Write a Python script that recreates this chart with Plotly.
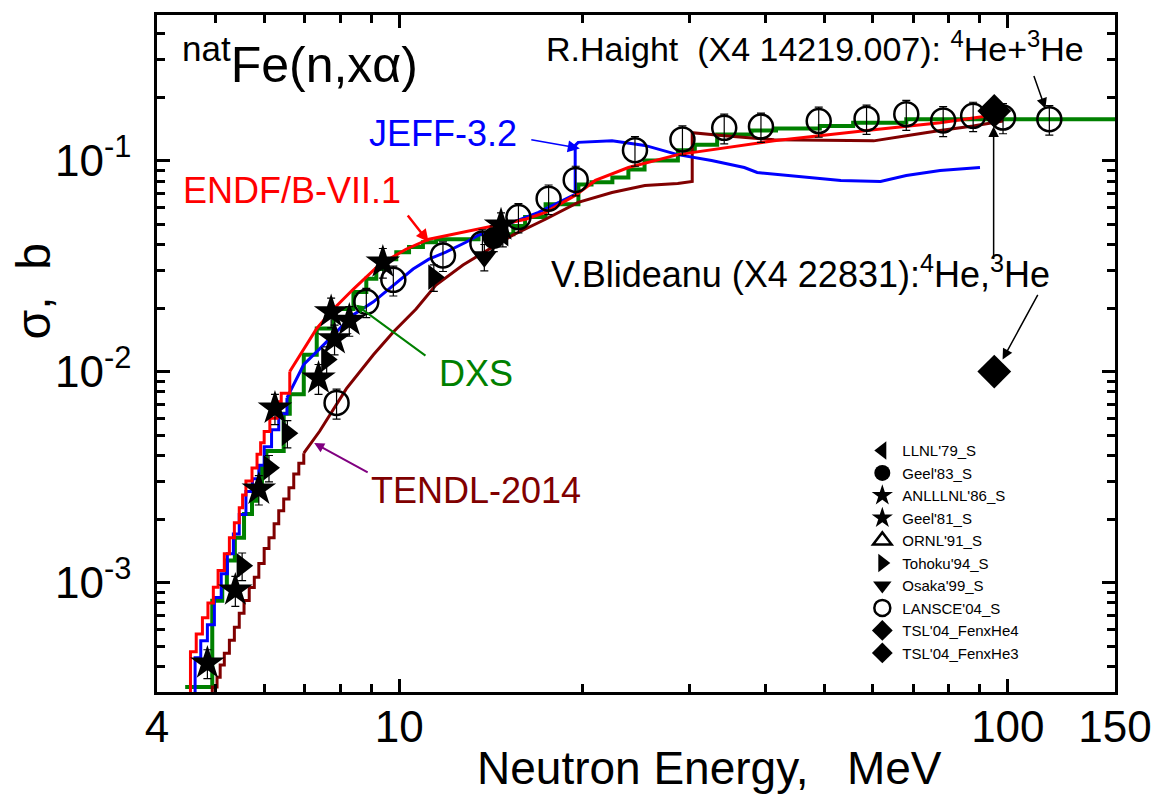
import plotly.graph_objects as go

# ---------------- data ----------------
# ENDF/B-VII.1 (red): stepped low-energy part + smooth part
endf_lo_e = [4.42, 4.54, 4.64, 4.75, 4.85, 4.95, 5.04, 5.16, 5.26, 5.36, 5.46, 5.53,
             5.60, 5.73, 5.84, 5.92, 6.00, 6.13, 6.30, 6.40, 6.61]
endf_lo_s = [2.9e-4, 4.7e-4, 5.7e-4, 6.8e-4, 8.0e-4, 9.5e-4, 1.14e-3, 1.37e-3, 1.63e-3,
             1.92e-3, 2.26e-3, 2.6e-3, 3.03e-3, 3.49e-3, 4.06e-3, 4.6e-3, 5.2e-3, 6.0e-3,
             7.2e-3, 7.9e-3, 1.0e-2]
endf_hi_e = [6.61, 6.97, 7.32, 7.80, 8.41, 9.27, 10.26, 11.19, 12.73, 14.4, 16.13, 17.39,
             19.46, 21.0, 23.8, 28.7, 36.9, 41.3, 60.2, 77.4, 95.6]
endf_hi_s = [1.0e-2, 1.28e-2, 1.6e-2, 1.98e-2, 2.46e-2, 3.2e-2, 3.8e-2, 4.24e-2, 4.57e-2,
             4.9e-2, 5.27e-2, 5.68e-2, 6.84e-2, 8.05e-2, 9.27e-2, 0.1067, 0.118, 0.124,
             0.140, 0.151, 0.165]

# JEFF-3.2 (blue)
jeff_lo_e = [4.54, 4.62, 4.72, 4.84, 4.97, 5.10, 5.22, 5.34, 5.46, 5.60, 5.74, 5.88,
             6.00, 6.17, 6.34, 6.54]
jeff_lo_s = [2.9e-4, 4.4e-4, 5.3e-4, 6.3e-4, 8.5e-4, 1.1e-3, 1.37e-3, 1.7e-3, 2.1e-3,
             2.7e-3, 3.1e-3, 3.6e-3, 4.4e-3, 5.3e-3, 6.3e-3, 7.5e-3]
jeff_hi_e = [6.54, 6.97, 7.40, 7.89, 8.41, 9.07, 9.78, 10.54, 11.19, 11.93, 12.87, 13.5,
             14.4, 15.36, 16.94, 18.26, 19.46, 19.46, 19.68, 22.37, 25.33, 28.68, 32.6,
             36.9, 38.74, 53.17, 61.78, 68.1, 77.4, 90.0]
jeff_hi_s = [7.5e-3, 1.08e-2, 1.28e-2, 1.54e-2, 1.86e-2, 2.14e-2, 2.57e-2, 3.06e-2,
             3.41e-2, 3.68e-2, 4.1e-2, 4.43e-2, 4.67e-2, 5.1e-2, 5.68e-2, 6.34e-2, 6.91e-2,
             0.118, 0.122, 0.124, 0.118, 0.1067, 0.100, 0.0927, 0.0878, 0.0805, 0.0796,
             0.0849, 0.0897, 0.0927]

# DXS (green histogram)
dxs_e = [4.45, 4.93, 5.12, 5.21, 5.37, 5.56, 5.73, 5.84, 5.95, 6.05, 6.46, 6.61, 6.97,
         7.32, 7.80, 8.41, 8.83, 9.17, 9.52, 9.89, 10.38, 10.94, 11.5, 13.5, 15.4, 16.1,
         17.4, 19.7, 20.7, 22.4, 23.8, 25.3, 28.7, 30.6, 33.3, 37.9, 41.6, 49.1, 55.7,
         68.1, 150]
dxs_s = [3.2e-4, 8.2e-4, 9.5e-4, 1.27e-3, 1.63e-3, 2.11e-3, 2.44e-3, 2.81e-3, 3.5e-3,
         4.2e-3, 6.3e-3, 7.8e-3, 1.2e-2, 1.6e-2, 1.98e-2, 2.38e-2, 2.75e-2, 3.06e-2,
         3.41e-2, 3.68e-2, 3.89e-2, 4.1e-2, 4.24e-2, 4.48e-2, 4.9e-2, 5.4e-2, 6.2e-2,
         7.7e-2, 7.9e-2, 8.31e-2, 9.07e-2, 0.100, 0.112, 0.119, 0.133, 0.139, 0.142,
         0.146, 0.151, 0.157, 0.157]

# TENDL-2014 (dark red)
tendl_lo_e = [4.88, 4.93, 5.02, 5.08, 5.16, 5.26, 5.36, 5.46, 5.56, 5.67, 5.78, 5.88,
              6.00, 6.11, 6.23, 6.34, 6.46, 6.59, 6.71, 6.84, 6.97]
tendl_lo_s = [2.9e-4, 3.2e-4, 3.56e-4, 4.06e-4, 4.62e-4, 5.33e-4, 6.13e-4, 7.14e-4,
              8.22e-4, 9.47e-4, 1.06e-3, 1.23e-3, 1.45e-3, 1.63e-3, 1.90e-3, 2.19e-3,
              2.49e-3, 2.81e-3, 3.27e-3, 3.68e-3, 4.10e-3]
tendl_hi_e = [6.97, 7.40, 8.19, 9.07, 9.78, 10.66, 11.49, 12.73, 14.4, 15.36, 17.39,
              19.68, 22.37, 25.33, 28.68, 30.3, 30.3, 34.2, 41.3, 53.2, 60.2, 68.1,
              77.4, 87.7, 98.2]
tendl_hi_s = [4.10e-3, 5.21e-3, 8.3e-3, 1.2e-2, 1.54e-2, 1.98e-2, 2.57e-2, 3.2e-2,
              3.97e-2, 4.43e-2, 5.27e-2, 6.34e-2, 7.06e-2, 7.62e-2, 7.79e-2, 7.96e-2,
              0.1355, 0.131, 0.1256, 0.124, 0.124, 0.131, 0.139, 0.146, 0.154]

# Experimental data (energy MeV, cross section b, error b)
llnl79_e, llnl79_s, llnl79_d = [14.8], [4.5e-2], [6e-3]
geel83_e, geel83_s, geel83_d = [14.3], [4.3e-2], [6e-3]
anl86_e = [4.84, 5.38, 5.88, 6.25, 7.37, 7.73, 7.83, 8.28, 9.4]
anl86_s = [4.15e-4, 9.2e-4, 2.77e-3, 6.7e-3, 9.3e-3, 1.92e-2, 1.43e-2, 1.75e-2, 3.3e-2]
anl86_d = [6.5e-5, 1.5e-4, 4.4e-4, 1.1e-3, 1.5e-3, 3.1e-3, 2.3e-3, 2.8e-3, 5.3e-3]
geel81_e, geel81_s, geel81_d = [14.7], [4.95e-2], [7e-3]
ornl91_e, ornl91_s = [None], [None]
tohoku_e = [5.52, 6.11, 6.55, 7.60, 11.4]
tohoku_s = [1.2e-3, 3.5e-3, 5.1e-3, 1.14e-2, 2.8e-2]
tohoku_d = [1.8e-4, 5e-4, 7.5e-4, 1.7e-3, 4e-3]
osaka_e, osaka_s, osaka_d = [13.8], [3.5e-2], [5e-3]
lansce_e = [7.89, 8.83, 9.78, 11.8, 13.7, 15.7, 17.6, 19.5, 24.4, 29.2, 34.2, 39.3,
            48.9, 58.6, 68.1, 78.3, 87.7, 98.2, 117]
lansce_s = [7.1e-3, 2.14e-2, 2.72e-2, 3.55e-2, 4.05e-2, 5.4e-2, 6.6e-2, 8.1e-2, 0.112,
            0.126, 0.143, 0.145, 0.154, 0.158, 0.166, 0.155, 0.163, 0.160, 0.157]
lansce_d = [1.15e-3, 3.4e-3, 4.4e-3, 5.7e-3, 6.5e-3, 8.6e-3, 0.0106, 0.013, 0.018,
            0.020, 0.023, 0.023, 0.025, 0.025, 0.027, 0.025, 0.026, 0.026, 0.025]
tsl4_e, tsl4_s = [95], [0.172]
tsl3_e, tsl3_s = [95], [0.0100]

x_tickvals = [4, 10, 100, 150]
x_ticktext = ["4", "10", "100", "150"]
x_minor = [5, 6, 7, 8, 9, 20, 30, 40, 50, 60, 70, 80, 90]
y_tickvals = [1e-3, 1e-2, 1e-1]
y_ticktext = ["10<sup>-3</sup>", "10<sup>-2</sup>", "10<sup>-1</sup>"]
y_minor = [4e-4, 5e-4, 6e-4, 7e-4, 8e-4, 9e-4, 2e-3, 3e-3, 4e-3, 5e-3, 6e-3, 7e-3, 8e-3,
           9e-3, 2e-2, 3e-2, 4e-2, 5e-2, 6e-2, 7e-2, 8e-2, 9e-2, 2e-1, 3e-1, 4e-1]

# ---------------- styling ----------------
FONT = "Arial, Liberation Sans, sans-serif"
RED, BLUE, GREEN, BROWN, PURPLE = "#ff0000", "#0000ff", "#008000", "#800000", "#800080"
W, H = 1164, 796
L, R, T, B = 157, 1120, 12, 692


def px(x):
    return (x - L) / (R - L)


def py(y):
    return (B - y) / (B - T)


fig = go.Figure()


def curve(xs, ys, color, width, shape):
    fig.add_trace(go.Scatter(x=xs, y=ys, mode="lines", showlegend=False,
                             hoverinfo="skip",
                             line=dict(color=color, width=width, shape=shape)))


curve(dxs_e, dxs_s, GREEN, 4, "hv")
curve(tendl_lo_e, tendl_lo_s, BROWN, 3, "hv")
curve(tendl_hi_e, tendl_hi_s, BROWN, 3, "linear")
curve(jeff_lo_e, jeff_lo_s, BLUE, 3, "hv")
curve(jeff_hi_e, jeff_hi_s, BLUE, 3, "linear")
curve(endf_lo_e, endf_lo_s, RED, 3, "hv")
curve(endf_hi_e, endf_hi_s, RED, 3, "linear")


def pts(name, xs, ys, symbol, size, rank, err=None, lw=0):
    kw = {}
    if err is not None:
        kw["error_y"] = dict(type="data", array=err, color="black", thickness=1.2, width=4)
    fig.add_trace(go.Scatter(x=xs, y=ys, mode="markers", name=name, legendrank=rank,
                             marker=dict(symbol=symbol, size=size, color="black",
                                         line=dict(color="black", width=lw)),
                             **kw))


pts("LLNL'79_S", llnl79_e, llnl79_s, "triangle-left", 22, 1, llnl79_d)
pts("Geel'83_S", geel83_e, geel83_s, "circle", 22, 2, geel83_d)
pts("ANLLLNL'86_S", anl86_e, anl86_s, "star", 26, 3, anl86_d)
pts("Geel'81_S", geel81_e, geel81_s, "star", 26, 4, geel81_d)
pts("ORNL'91_S", ornl91_e, ornl91_s, "triangle-up-open", 22, 5, None, 2.5)
pts("Tohoku'94_S", tohoku_e, tohoku_s, "triangle-right", 22, 6, tohoku_d)
pts("Osaka'99_S", osaka_e, osaka_s, "triangle-down", 22, 7, osaka_d)
pts("LANSCE'04_S", lansce_e, lansce_s, "circle-open", 24, 8, lansce_d, 2.5)
pts("TSL'04_FenxHe4", tsl4_e, tsl4_s, "diamond", 26, 9)
pts("TSL'04_FenxHe3", tsl3_e, tsl3_s, "diamond", 26, 10)

axis_common = dict(type="log", showgrid=False, zeroline=False, showline=True,
                   linecolor="black", linewidth=2.5, mirror="allticks",
                   ticks="inside", ticklen=13, tickwidth=2.5, tickcolor="black",
                   tickmode="array")

fig.update_xaxes(**axis_common, range=[0.60206, 2.17609],
                 tickvals=x_tickvals, ticktext=x_ticktext,
                 tickfont=dict(family=FONT, size=44, color="black"),
                 ticklabelstandoff=-6,
                 minor=dict(tickmode="array", tickvals=x_minor, ticks="inside",
                            ticklen=8, tickwidth=2.5, tickcolor="black"))
fig.update_yaxes(**axis_common, range=[-3.519, -0.31],
                 tickvals=y_tickvals, ticktext=y_ticktext,
                 tickfont=dict(family=FONT, size=44, color="black"),
                 ticklabelstandoff=14,
                 minor=dict(tickmode="array", tickvals=y_minor, ticks="inside",
                            ticklen=8, tickwidth=2.5, tickcolor="black"))

annotations = []


def text(t, x, y, size, color="black", anchor="left", angle=0):
    annotations.append(dict(text=t, x=px(x), y=py(y), xref="paper", yref="paper",
                            showarrow=False, xanchor=anchor, yanchor="middle",
                            textangle=angle,
                            font=dict(family=FONT, size=size, color=color)))


def arrow(tx, ty, hx, hy, color, width, size=1.2):
    annotations.append(dict(text="", x=px(hx), y=py(hy), xref="paper", yref="paper",
                            ax=tx - hx, ay=ty - hy, showarrow=True, arrowhead=2,
                            arrowsize=size, arrowwidth=width, arrowcolor=color,
                            standoff=0, startstandoff=0))


text("<sup>nat</sup>Fe(n,xα)", 180, 58, 50)
text("JEFF-3.2", 368, 131, 36, BLUE)
text("ENDF/B-VII.1", 181, 188, 36, RED)
text("DXS", 438, 372, 36, GREEN)
text("TENDL-2014", 370, 490, 36, BROWN)
text("V.Blideanu (X4 22831):<sup>4</sup>He,<sup>3</sup>He", 551, 270, 36)
text("R.Haight&nbsp;&nbsp;(X4 14219.007): <sup>4</sup>He+<sup>3</sup>He", 546, 44, 34)
text("Neutron Energy,&nbsp;&nbsp; MeV", 712, 768, 46, anchor="center")
text("σ,&nbsp; b", 33, 290, 48, angle=-90, anchor="center")

arrow(532, 137, 582, 146, BLUE, 1.5, 1.6)
arrow(408, 212, 430, 240, RED, 2.5, 1.0)
arrow(428, 355, 357, 303, GREEN, 2, 0.9)
arrow(370, 472, 315, 442, PURPLE, 2, 1.0)
arrow(998, 258, 998, 124, "black", 1.5, 1.4)
arrow(1043, 292, 1007, 358, "black", 1.5, 1.4)
arrow(1038, 72, 1050, 106, "black", 1.5, 1.4)

fig.update_layout(
    width=W, height=H,
    margin=dict(l=L, r=W - R, t=T, b=H - B),
    plot_bgcolor="white", paper_bgcolor="white",
    font=dict(family=FONT, color="black"),
    annotations=annotations,
    showlegend=True,
    legend=dict(x=px(866), y=py(433), xanchor="left", yanchor="top",
                bgcolor="rgba(0,0,0,0)", borderwidth=0,
                font=dict(family=FONT, size=15, color="black"),
                itemsizing="trace", traceorder="normal"),
)

fig.write_html("out.html", config={"displayModeBar": False},
               post_script="document.body.style.margin='0';")
